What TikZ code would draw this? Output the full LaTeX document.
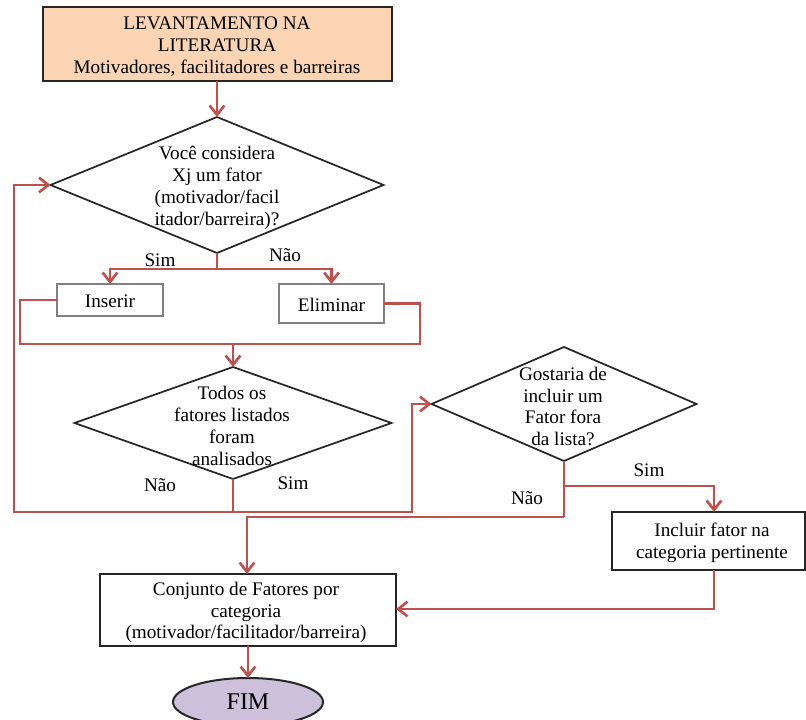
\documentclass[tikz,border=0pt]{standalone}
\usepackage{fontspec}
\setmainfont{Liberation Serif}
\usetikzlibrary{arrows.meta,shapes.geometric,calc}
\definecolor{flowred}{HTML}{C0504D}
\definecolor{peach}{HTML}{FBD4B4}
\definecolor{lavender}{HTML}{CCC0DA}
\definecolor{boxgray}{HTML}{808080}
\tikzset{
  txt/.style={font=\fontsize{14.4}{16.4}\selectfont, align=center, inner sep=0pt},
  procbox/.style={draw=black!85, line width=1.5pt, rectangle, inner sep=0pt, outer sep=0pt},
  lightbox/.style={draw=boxgray, line width=1.3pt, rectangle, inner sep=0pt, outer sep=0pt},
  decision/.style={draw=black!85, line width=1.3pt, diamond, inner sep=0pt, outer sep=0pt},
  flow/.style={draw=flowred, line width=2pt, -{Straight Barb[length=7pt,width=11pt,line width=2pt]}},
  wire/.style={draw=flowred, line width=2pt},
  lbl/.style={font=\fontsize{14.4}{16}\selectfont, inner sep=0pt}
}
\begin{document}
\begin{tikzpicture}[x=0.75pt,y=-0.75pt]
  \useasboundingbox (0,0) rectangle (806,720);

  % boxes (frames first, their texts on top)
  \node[procbox, fill=peach, minimum width=349*0.75pt, minimum height=74*0.75pt] (lev) at (217,44) {};
  \node[txt] (levt) at (217,46.5) {LEVANTAMENTO NA\\LITERATURA\\Motivadores, facilitadores e barreiras};
  \node[lightbox, minimum width=106*0.75pt, minimum height=32*0.75pt] (ins) at (110,300) {};
  \node[txt] (inst) at (110,301) {Inserir};
  \node[lightbox, minimum width=105*0.75pt, minimum height=39*0.75pt] (eli) at (331.5,303.5) {};
  \node[txt] (elit) at (331.5,305) {Eliminar};
  \node[procbox, minimum width=193*0.75pt, minimum height=58*0.75pt] (inc) at (708.5,541) {};
  \node[txt] (inct) at (712,542.5) {Incluir fator na\\categoria pertinente};
  \node[procbox, minimum width=296*0.75pt, minimum height=72*0.75pt] (conj) at (248,610) {};
  \node[txt] (conjt) at (246,612.5) {Conjunto de Fatores por\\categoria\\(motivador/facilitador/barreira)};
  \node[draw=black!85, line width=1.5pt, fill=lavender, ellipse, minimum width=150*0.75pt,
        minimum height=48*0.75pt, inner sep=0pt, outer sep=0pt,
        font=\fontsize{18}{20}\selectfont] (fim) at (248,702) {FIM};

  % decisions
  \node[decision, minimum width=333*0.75pt, minimum height=136*0.75pt] (d1) at (217,185) {};
  \node[txt] (d1t) at (217,188) {Você considera\\Xj um fator\\(motivador/facil\\itador/barreira)?};
  \node[decision, minimum width=317*0.75pt, minimum height=112*0.75pt] (d2) at (233,423) {};
  \node[txt] (d2t) at (232,426) {Todos os\\fatores listados\\foram\\analisados};
  \node[decision, minimum width=265*0.75pt, minimum height=114*0.75pt] (d3) at (564,404) {};
  \node[txt] (d3t) at (563,406.5) {Gostaria de\\incluir um\\Fator fora\\da lista?};

  % branch labels
  \node[lbl] (s1) at (160,260) {Sim};
  \node[lbl] (n1) at (285,255) {Não};
  \node[lbl] (n2) at (160,485) {Não};
  \node[lbl] (s2) at (293,483) {Sim};
  \node[lbl] (s3) at (649,470) {Sim};
  \node[lbl] (n3) at (527,498) {Não};

  % junction points
  \coordinate (j1) at (217,269);
  \coordinate (j2) at (233,344);
  \coordinate (j3) at (233,512);
  \coordinate (j4) at (564,486);
  \coordinate (j5) at (564,517);
  \coordinate (loopL) at (14,512);
  \coordinate (loopR) at (412,512);
  \coordinate (mergeL) at (20,344);
  \coordinate (mergeR) at (420,344);
  \coordinate (incTop) at ($(inc.north)+(5.5,0)$);
  \coordinate (incBot) at ($(inc.south)+(5.5,0)$);
  \coordinate (back) at (714,609);
  \coordinate (conjTop) at (247,574);

  % connectors
  \draw[flow] (lev.south) -- (d1.north);
  \draw[wire] (d1.south) -- (j1);
  \draw[flow] (j1) -| (ins.north);
  \draw[flow] (j1) -| (eli.north);
  \draw[wire] (ins.west) -| (mergeL) -- (j2);
  \draw[wire] (eli.east) -| (mergeR) -- (j2);
  \draw[flow] (j2) -- (d2.north);
  \draw[wire] (d2.south) -- (j3);
  \draw[flow] (j3) -- (loopL) |- (d1.west);
  \draw[flow] (j3) -- (loopR) |- (d3.west);
  \draw[wire] (d3.south) -- (j4) -- (j5);
  \draw[flow] (j4) -| (incTop);
  \draw[flow] (j5) -| (conjTop);
  \draw[flow] (incBot) -- (back) -- (back -| conj.east);
  \draw[flow] (conj.south) -- (fim.north);
\end{tikzpicture}
\end{document}
